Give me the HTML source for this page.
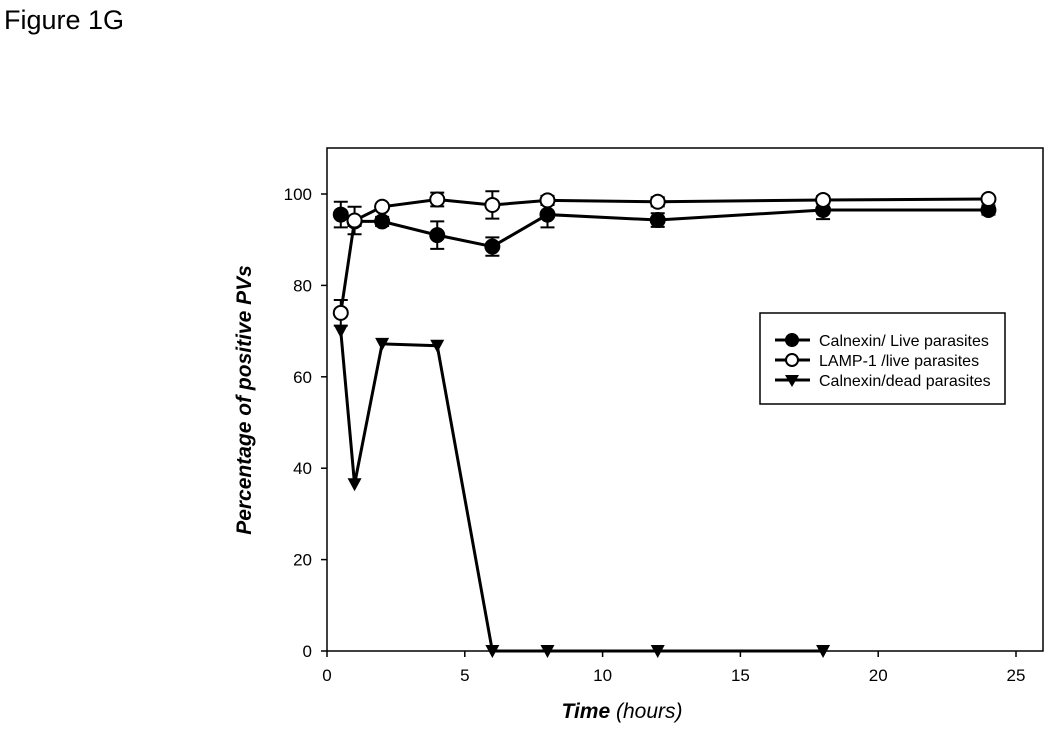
<!DOCTYPE html>
<html><head><meta charset="utf-8"><style>
body{margin:0;background:#fff;}
svg text{font-family:"Liberation Sans",sans-serif;}
</style></head><body>
<svg id="c" width="1050" height="740" viewBox="0 0 1050 740">
<text x="4" y="29" font-size="27" font-family="Liberation Sans">Figure 1G</text>
</svg>
<script>
const categoriesX=[0.5,1,2,4,6,8,12,18,24];
const calnexinLive=[95.5,94,94,91,88.5,95.5,94.3,96.5,96.5];
const calnexinLiveErr=[2.8,1,1,3,2,2.8,1.5,2,1];
const lampLive=[74,94.2,97.2,98.8,97.6,98.6,98.3,98.7,98.9];
const lampLiveErr=[2.8,3,0.5,1.5,3,1,1,0.8,0.5];
const deadX=[0.5,1,2,4,6,8,12,18];
const calnexinDead=[70,36.5,67.2,66.8,0,0,0,0];
const xTicks=[0,5,10,15,20,25];
const yTicks=[0,20,40,60,80,100];
const NS='http://www.w3.org/2000/svg';
const svg=document.getElementById('c');
const X=v=>327+v*27.56, Y=v=>651-v*4.57;
function el(t,a,p){const e=document.createElementNS(NS,t);for(const k in a)e.setAttribute(k,a[k]);(p||svg).appendChild(e);return e;}
const frame=el('rect',{x:327,y:148,width:716,height:503,fill:'none',stroke:'#000','stroke-width':1.5});


xTicks.forEach(t=>{el('line',{x1:X(t),x2:X(t),y1:651,y2:657,stroke:'#000','stroke-width':1.5});
 const tx=el('text',{x:X(t),y:681,'font-size':17,'text-anchor':'middle'});tx.textContent=t;
 
 });
yTicks.forEach(t=>{el('line',{x1:321,x2:327,y1:Y(t),y2:Y(t),stroke:'#000','stroke-width':1.5});
 const tx=el('text',{x:312,y:Y(t)+6,'font-size':17,'text-anchor':'end'});tx.textContent=t;
 
 });
const xt=el('text',{x:622,y:718,'font-size':21,'text-anchor':'middle','font-style':'italic'});
xt.innerHTML='<tspan font-weight="bold">Time</tspan>  (hours)';


const yt=el('text',{x:0,y:0,'font-size':21,'text-anchor':'middle','font-style':'italic','font-weight':'bold',transform:'translate(251,400) rotate(-90)'});
yt.textContent='Percentage of positive PVs';


function series(xs,ys,errs,kind,name){
 const g=el('g',{});
 
 
 el('polyline',{points:xs.map((x,i)=>X(x)+','+Y(ys[i])).join(' '),fill:'none',stroke:'#000','stroke-width':3},g);
 if(errs)xs.forEach((x,i)=>{const a=Y(ys[i]+errs[i]),b=Y(ys[i]-errs[i]),cx=X(x);
  el('path',{d:`M${cx},${a}V${b}M${cx-7},${a}H${cx+7}M${cx-7},${b}H${cx+7}`,stroke:'#000','stroke-width':2,fill:'none'},g);});
 xs.forEach((x,i)=>{const cx=X(x),cy=Y(ys[i]);let m;
  if(kind==='tri')m=el('polygon',{points:`${cx-7},${cy-6} ${cx+7},${cy-6} ${cx},${cy+7}`,fill:'#000'},g);
  else m=el('circle',{cx,cy,r:7,fill:kind==='fill'?'#000':'#fff',stroke:'#000','stroke-width':2},g);
  
  });
}
series(deadX,calnexinDead,null,'tri','calnexin-dead-series');
series(categoriesX,calnexinLive,calnexinLiveErr,'fill','calnexin-live-series');
series(categoriesX,lampLive,lampLiveErr,'open','lamp1-live-series');
const lg=el('g',{});


el('rect',{x:760,y:313,width:245,height:91,fill:'#fff',stroke:'#000','stroke-width':1.5},lg);
[['Calnexin/ Live parasites','fill'],['LAMP-1 /live parasites','open'],['Calnexin/dead parasites','tri']].forEach((d,i)=>{
 const y=340+i*20;
 el('line',{x1:775,x2:810,y1:y,y2:y,stroke:'#000','stroke-width':3},lg);
 if(d[1]==='tri')el('polygon',{points:`${785},${y-5} ${799},${y-5} ${792},${y+7}`,fill:'#000'},lg);
 else el('circle',{cx:792,cy:y,r:6,fill:d[1]==='fill'?'#000':'#fff',stroke:'#000','stroke-width':2},lg);
 const t=el('text',{x:819,y:y+6,'font-size':16},lg);t.textContent=d[0];
 
 
});
</script>
</body></html>
